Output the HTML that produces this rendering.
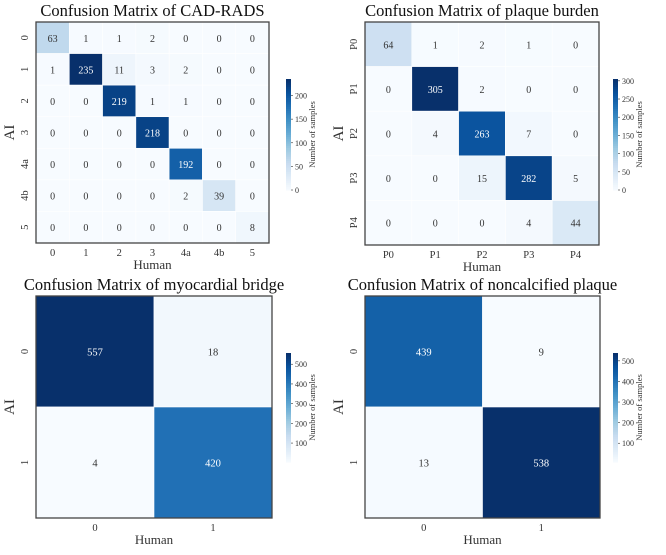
<!DOCTYPE html>
<html><head><meta charset="utf-8">
<style>
html,body{margin:0;padding:0;background:#fff;}
svg{display:block;font-family:"Liberation Serif",serif;}
</style></head>
<body>
<svg id="fig" width="666" height="555" viewBox="0 0 666 555"></svg>
<script>
// Panel 1: CAD-RADS
const cadLabels = ["0","1","2","3","4a","4b","5"];
const cadValues = [
 [63,1,1,2,0,0,0],
 [1,235,11,3,2,0,0],
 [0,0,219,1,1,0,0],
 [0,0,0,218,0,0,0],
 [0,0,0,0,192,0,0],
 [0,0,0,0,2,39,0],
 [0,0,0,0,0,0,8]];
const cadTicks = [0,50,100,150,200];
// Panel 2: plaque burden
const pbLabels = ["P0","P1","P2","P3","P4"];
const pbValues = [
 [64,1,2,1,0],
 [0,305,2,0,0],
 [0,4,263,7,0],
 [0,0,15,282,5],
 [0,0,0,4,44]];
const pbTicks = [0,50,100,150,200,250,300];
// Panel 3: myocardial bridge
const mbLabels = ["0","1"];
const mbValues = [[557,18],[4,420]];
const mbTicks = [100,200,300,400,500];
// Panel 4: noncalcified plaque
const ncLabels = ["0","1"];
const ncValues = [[439,9],[13,538]];
const ncTicks = [100,200,300,400,500];

const NS="http://www.w3.org/2000/svg";
const svg=document.getElementById('fig');
const stops=["#f7fbff","#deebf7","#c6dbef","#9ecae1","#6baed6","#4292c6","#2171b5","#08519c","#08306b"];
function hex(h){return [1,3,5].map(i=>parseInt(h.substr(i,2),16));}
function blues(t){t=Math.max(0,Math.min(1,t));const p=t*8,i=Math.min(7,Math.floor(p)),f=p-i;
 const a=hex(stops[i]),b=hex(stops[i+1]);return "rgb("+a.map((v,k)=>Math.round(v+(b[k]-v)*f)).join(",")+")";}
function mk(tag,attrs,parent){const e=document.createElementNS(NS,tag);for(const k in attrs)e.setAttribute(k,attrs[k]);(parent||svg).appendChild(e);return e;}

function panel(cfg){
 const g=mk('g',{});
 
 
 const vals=cfg.values,n=cfg.labels.length;
 const flat=vals.flat();const vmin=Math.min(...flat),vmax=Math.max(...flat);
 const cw=(cfg.x1-cfg.x0)/n,ch=(cfg.y1-cfg.y0)/n;
 const xs=j=>cfg.x0+j*cw, ys=i=>cfg.y0+i*ch;
 for(let i=0;i<n;i++)for(let j=0;j<n;j++){
  const v=vals[i][j],t=(v-vmin)/(vmax-vmin);
  const r=mk('rect',{x:xs(j),y:ys(i),width:cw,height:ch,fill:blues(t),stroke:"#fff","stroke-width":0.6},g);
  
  
  const tx=mk('text',{x:xs(j)+cw/2,y:ys(i)+ch/2+4,"text-anchor":"middle","font-size":cfg.fs,fill:t>0.5?"#fff":"#333"},g);
  tx.textContent=v;
  
  
 }
 const fr=mk('rect',{x:cfg.x0,y:cfg.y0,width:cfg.x1-cfg.x0,height:cfg.y1-cfg.y0,fill:"none",stroke:"#444","stroke-width":1.3},g);
 
 
 for(let k=0;k<n;k++){
  const xl=mk('text',{x:xs(k)+cw/2,y:cfg.y1+13,"text-anchor":"middle","font-size":10.5,fill:"#333"},g);
  xl.textContent=cfg.labels[k];
  
  
  const cy=ys(k)+ch/2,cx=cfg.x0-8;
  const yl=mk('text',{x:cx,y:cy,"text-anchor":"middle","font-size":10.5,fill:"#333",transform:`rotate(-90 ${cx} ${cy})`},g);
  yl.textContent=cfg.labels[k];
  
  
 }
 const tt=mk('text',{x:(cfg.x0+cfg.x1)/2,y:cfg.y0-6,"text-anchor":"middle","font-size":16.5,fill:"#111"},g);
 tt.textContent=cfg.title;
 
 
 const hx=mk('text',{x:(cfg.x0+cfg.x1)/2,y:cfg.y1+26,"text-anchor":"middle","font-size":13,fill:"#333"},g);
 hx.textContent="Human";
 
 
 const ay=(cfg.y0+cfg.y1)/2,ax=cfg.x0-22;
 const ai=mk('text',{x:ax,y:ay,"text-anchor":"middle","font-size":15,fill:"#333",transform:`rotate(-90 ${ax} ${ay})`},g);
 ai.textContent="AI";
 
 
 // colorbar
 const cb=mk('g',{},g);
 
 
 const bx=cfg.cbx,by0=cfg.cby0,by1=cfg.cby1,bw=5,steps=60;
 for(let s=0;s<steps;s++){
  const t=(s+0.5)/steps;
  mk('rect',{x:bx,y:by1-(s+1)*(by1-by0)/steps,width:bw,height:(by1-by0)/steps+0.5,fill:blues(t)},cb);
 }
 for(const tv of cfg.ticks){
  const y=by1-(tv-vmin)/(vmax-vmin)*(by1-by0);
  mk('line',{x1:bx+bw,x2:bx+bw+2,y1:y,y2:y,stroke:"#333","stroke-width":0.6},cb);
  const tl=mk('text',{x:bx+bw+4,y:y+3,"font-size":8,fill:"#333"},cb);
  tl.textContent=tv;
  
  
 }
 const lx=bx+29,ly=(by0+by1)/2;
 const cl=mk('text',{x:lx,y:ly,"text-anchor":"middle","font-size":8.5,fill:"#333",transform:`rotate(-90 ${lx} ${ly})`},cb);
 cl.textContent="Number of samples";
 
 
}
panel({name:'cad-rads-matrix',title:'Confusion Matrix of CAD-RADS',labels:cadLabels,values:cadValues,ticks:cadTicks,x0:36,x1:269,y0:22,y1:243,cbx:286,cby0:79,cby1:190,fs:10});
panel({name:'plaque-burden-matrix',title:'Confusion Matrix of plaque burden',labels:pbLabels,values:pbValues,ticks:pbTicks,x0:365,x1:599,y0:22,y1:245,cbx:613,cby0:79,cby1:190,fs:10});
panel({name:'myocardial-bridge-matrix',title:'Confusion Matrix of myocardial bridge',labels:mbLabels,values:mbValues,ticks:mbTicks,x0:36,x1:272,y0:296,y1:518,cbx:286,cby0:353,cby1:462,fs:10.5});
panel({name:'noncalcified-plaque-matrix',title:'Confusion Matrix of noncalcified plaque',labels:ncLabels,values:ncValues,ticks:ncTicks,x0:365,x1:600,y0:296,y1:518,cbx:613,cby0:353,cby1:462,fs:10.5});
</script>
</body></html>
